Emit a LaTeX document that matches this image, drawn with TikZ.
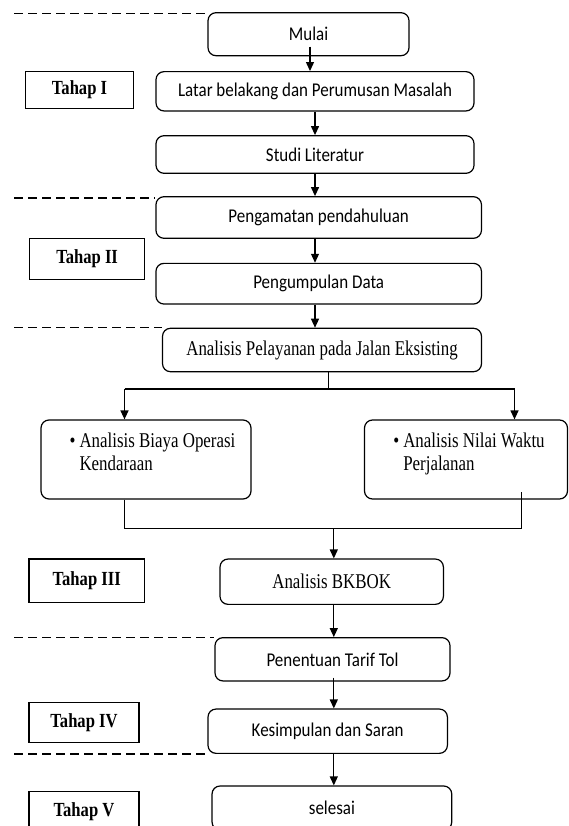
\documentclass[tikz,border=0pt]{standalone}
\usepackage{fontspec}
\setmainfont{Carlito}[FakeStretch=0.87]
\newfontfamily\tnr{Liberation Serif}[FakeStretch=0.805]
\newfontfamily\tnrb{Liberation Serif}[FakeStretch=0.83]
\usetikzlibrary{arrows.meta,calc}
\begin{document}
\begin{tikzpicture}[x=1pt,y=-1pt,
 box/.style={draw, rounded corners=8pt, line width=1.2pt, inner sep=0pt, font=\fontsize{19.5}{23}\selectfont},
 sbox/.style={box, font=\tnr\fontsize{21}{23}\selectfont},
 btxt/.style={inner sep=0pt, font=\tnr\fontsize{21}{23}\selectfont},
 tahap/.style={draw, line width=1.2pt, inner sep=0pt, font=\tnrb\bfseries\fontsize{20}{23}\selectfont},
 arr/.style={line width=1.2pt, -{Triangle[length=9pt,width=8pt]}},
 conn/.style={line width=1.2pt},
 sep/.style={line width=1.3pt, dash pattern=on 9pt off 5pt}]
\useasboundingbox (0,0) rectangle (569,826);
\clip (0,0) rectangle (569,826);

% main boxes
\node[box, minimum width=201pt, minimum height=43pt] (mulai) at (308.5,34.2) {Mulai};
\node[box, minimum width=318pt, minimum height=39.3pt] (latar) at (315,91.3) {Latar belakang dan Perumusan Masalah};
\node[box, minimum width=318pt, minimum height=37.6pt] (studi) at (315,154.5) {Studi Literatur};
\node[box, minimum width=325.5pt, minimum height=41.6pt] (peng) at (318.7,217.5) {Pengamatan pendahuluan};
\node[box, minimum width=325.5pt, minimum height=40.7pt] (pengum) at (318.7,283.7) {Pengumpulan Data};
\node[sbox, minimum width=319pt, minimum height=43.4pt] (pel) at (322,350) {Analisis Pelayanan pada Jalan Eksisting};
\node[box, minimum width=210pt, minimum height=79pt] (lb) at (146,459.5) {};
\node[box, minimum width=203pt, minimum height=79pt] (rb) at (466,459.5) {};
\node[btxt] (lbt) at (152.5,454.5) {\begin{tabular}{@{}l@{\hspace{4pt}}l@{}}\textbullet & Analisis Biaya Operasi\\ & Kendaraan\end{tabular}};
\node[btxt] (rbt) at (469,454.5) {\begin{tabular}{@{}l@{\hspace{4pt}}l@{}}\textbullet & Analisis Nilai Waktu\\ & Perjalanan\end{tabular}};
\node[sbox, minimum width=223.4pt, minimum height=45.3pt] (bk) at (331.7,581.7) {Analisis BKBOK};
\node[box, minimum width=235pt, minimum height=43.3pt] (pen) at (332.5,659.3) {Penentuan Tarif Tol};
\node[box, minimum width=239.4pt, minimum height=44.3pt] (kes) at (327.7,731.2) {Kesimpulan dan Saran};
\node[box, minimum width=239.7pt, minimum height=44pt] (sel) at (331.9,808) {selesai};

% stage labels
\node[tahap, minimum width=108pt, minimum height=36.6pt] (t1) at (79.5,90) {Tahap I};
\node[tahap, minimum width=114.6pt, minimum height=41pt] (t2) at (87.1,258.8) {Tahap II};
\node[tahap, minimum width=115.4pt, minimum height=43.7pt] (t3) at (86.7,580.9) {Tahap III};
\node[tahap, minimum width=110pt, minimum height=39.6pt] (t4) at (84,722.5) {Tahap IV};
\node[tahap, minimum width=110pt, minimum height=41pt] (t5) at (84,812) {Tahap V};

% dashed separators
\coordinate (d1) at (14,13.3);
\coordinate (d2) at (14,198);
\coordinate (d3) at (14,327.7);
\coordinate (d4) at (14,637.7);
\coordinate (d5) at (14,754);
\draw[sep] (d1) -- (d1 -| mulai.west);
\draw[sep] (d2) -- (d2 -| peng.west);
\draw[sep] (d3) -- (d3 -| pel.west);
\draw[sep] (d4) -- (d4 -| pen.west);
\draw[sep] (d5) -- (d5 -| kes.west);

% connectors
\coordinate (ma) at (310,46.7);
\draw[arr] (ma) -- (ma |- latar.north);
\draw[arr] (latar.south) -- (latar.south |- studi.north);
\draw[arr] (studi.south) -- (studi.south |- peng.north);
\draw[arr] (peng.south -| studi.south) -- (studi.south |- pengum.north);
\draw[arr] (pengum.south -| studi.south) -- (studi.south |- pel.north);

\coordinate (jt) at (328.7,389);
\coordinate (lt) at (124.5,389);
\coordinate (rt) at (514.5,389);
\draw[conn] (pel.south -| jt) -- (jt);
\draw[conn] (lt) -- (rt);
\draw[arr] (lt) -- (lt |- lb.north);
\draw[arr] (rt) -- (rt |- rb.north);

\coordinate (mb) at (333.8,528.3);
\coordinate (ml) at (124.5,528.3);
\coordinate (mr) at (521.4,528.3);
\coordinate (rs) at (521.4,492);
\draw[conn] (ml |- lb.south) -- (ml) -- (mr) -- (rs);
\draw[arr] (mb) -- (mb |- bk.north);
\draw[arr] (bk.south -| mb) -- (mb |- pen.north);
\draw[arr] ($(pen.south -| mb)+(0,-4)$) -- (mb |- kes.north);
\draw[arr] (kes.south -| mb) -- (mb |- sel.north);
\end{tikzpicture}
\end{document}
